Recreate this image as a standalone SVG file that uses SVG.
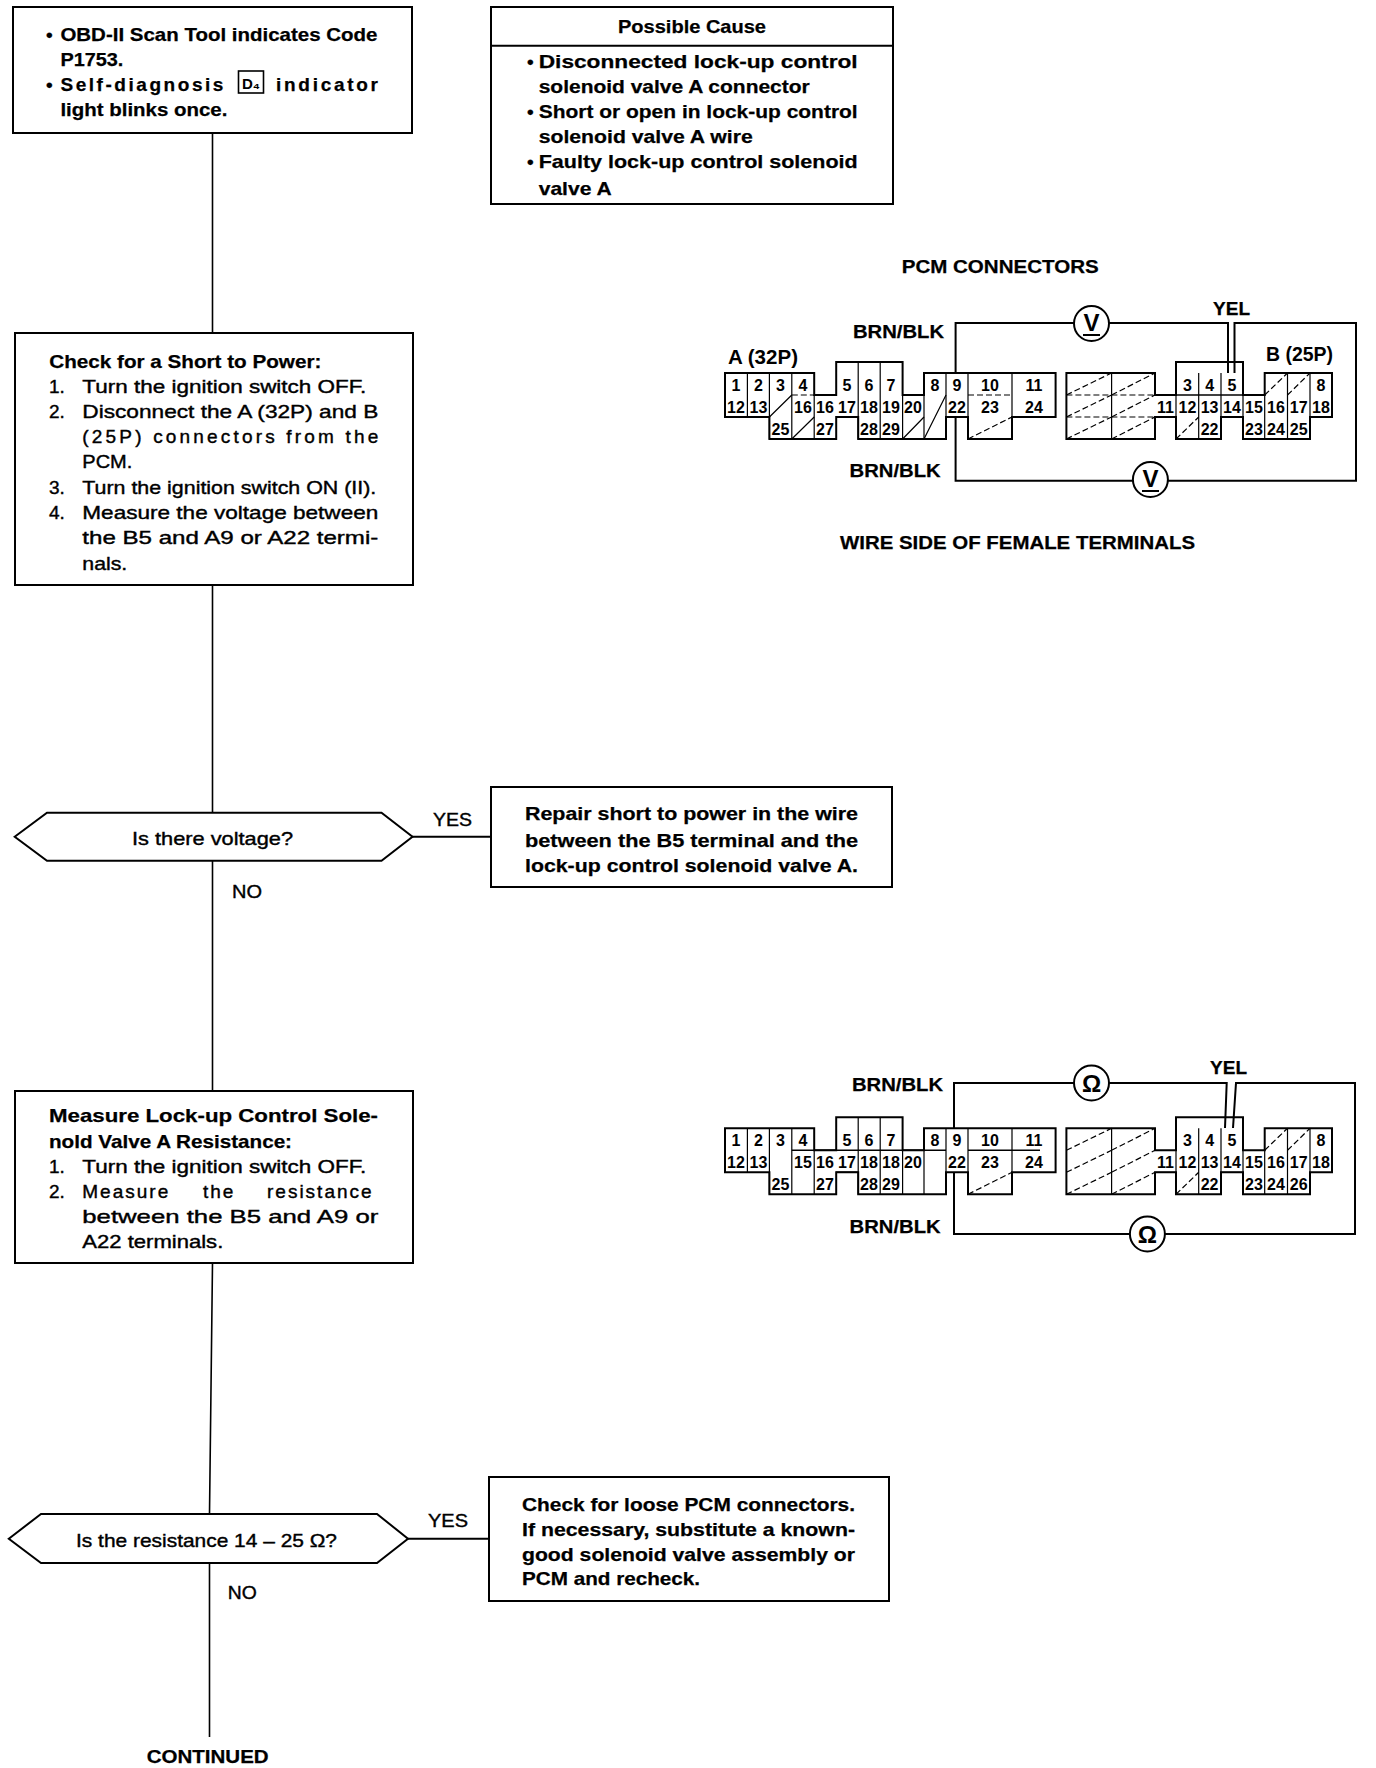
<svg xmlns="http://www.w3.org/2000/svg" width="1376" height="1768" viewBox="0 0 1376 1768">
<style>
text{font-family:"Liberation Sans",Arial,sans-serif;fill:#000}
.b{font-weight:700;font-size:19px;stroke:#000;stroke-width:.25px}
.r{font-size:19px;stroke:#000;stroke-width:.4px}
.l{font-weight:700;font-size:20px}
.c{font-weight:700;font-size:16px;text-anchor:middle}
.box{fill:#fff;stroke:#000;stroke-width:2}
.w{fill:none;stroke:#000;stroke-width:2}
.thin{fill:none;stroke:#000;stroke-width:1.2}
.dash{fill:none;stroke:#000;stroke-width:1.2;stroke-dasharray:6 3}
.m{fill:#fff;stroke:#000;stroke-width:2}
</style>
<defs>
<path id="outA" d="M725 373H814.2V395H836.2V362H902.6V395H924V373H1055.6V417H1012V439H968V417H946V439H858.2V417H836.2V439H769.4V417H725Z"/>
<path id="gridA" d="M747.4 373V417M769.4 373V439M791.8 373V439M814.2 395V439M858.2 362V439M880.2 362V439M902.6 395V439M924 395V439M946 373V439M968 373V439M1012 373V417"/>
<path id="outB" d="M1066.4 373H1155V395H1176V362H1243V395H1264.7V373H1332V417H1310V439H1243V417H1221V439H1176V417H1155V439H1066.4Z"/>
<path id="gridB" d="M1111.6 373V439M1198.7 373V439M1221 373V417M1287.5 373V439M1310 373V417M1176 395V417M1243 395V417M1264.7 395V439M1155 417H1176M1221 417H1243"/>
<path id="hatch" d="M1066.4 395L1111.6 373M1111.6 395L1155 373M1066.4 417L1111.6 395M1111.6 417L1155 395M1066.4 439L1111.6 417M1111.6 439L1155 417M968 439L1012 417M1176 439L1198.7 417M1264.7 395L1287.5 373M1287.5 395L1310 373"/>
</defs>

<g id="connectors">
<path class="w" style="stroke-width:1.6" d="M212.5 133V333M212.5 585V813M212.5 861V1091M212.5 1263L209.5 1514M209.5 1563V1737"/>
<path class="w" d="M412 836.7H490M408 1538.7H488"/>
<path class="w" d="M955.6 373V323H1074M1109 323H1228V373M1234.5 373V323H1356V480.7H1168M1133 480.7H955.6V417"/>
<path class="w" d="M954 1128V1083H1074M1109 1083H1226.7L1225 1128M1233 1128L1236 1083H1355V1234H1165M1130 1234H954V1172"/>
</g>

<g id="box-symptom">
<rect class="box" x="13" y="7" width="399" height="126"/>
<text class="b" x="46" y="40.7">•</text>
<text class="b" x="60.4" y="40.7" textLength="317" lengthAdjust="spacingAndGlyphs">OBD-II Scan Tool indicates Code</text>
<text class="b" x="60.4" y="65.7" textLength="63" lengthAdjust="spacingAndGlyphs">P1753.</text>
<text class="b" x="46" y="90.7">•</text>
<text class="b" x="60.4" y="90.7" textLength="163">Self-diagnosis</text>
<rect x="238.5" y="71" width="25" height="22" fill="none" stroke="#000" stroke-width="1.6"/>
<text x="242" y="89" style="font-weight:700;font-size:15px">D₄</text>
<text class="b" x="276" y="90.7" textLength="102">indicator</text>
<text class="b" x="60.4" y="116" textLength="167" lengthAdjust="spacingAndGlyphs">light blinks once.</text>
</g>

<g id="box-causes">
<rect class="box" x="491" y="7" width="402" height="197"/>
<path class="w" d="M491 45.7H893"/>
<text class="b" x="618" y="33" textLength="148" lengthAdjust="spacingAndGlyphs">Possible Cause</text>
<text class="b" x="527" y="68.3">•</text>
<text class="b" x="538.7" y="68.3" textLength="319" lengthAdjust="spacingAndGlyphs">Disconnected lock-up control</text>
<text class="b" x="538.7" y="93.3" textLength="271" lengthAdjust="spacingAndGlyphs">solenoid valve A connector</text>
<text class="b" x="527" y="118.3">•</text>
<text class="b" x="538.7" y="118.3" textLength="319" lengthAdjust="spacingAndGlyphs">Short or open in lock-up control</text>
<text class="b" x="538.7" y="143.3" textLength="214" lengthAdjust="spacingAndGlyphs">solenoid valve A wire</text>
<text class="b" x="527" y="168.3">•</text>
<text class="b" x="538.7" y="168.3" textLength="319" lengthAdjust="spacingAndGlyphs">Faulty lock-up control solenoid</text>
<text class="b" x="538.7" y="195" textLength="73" lengthAdjust="spacingAndGlyphs">valve A</text>
</g>

<g id="box-short-check">
<rect class="box" x="15" y="333" width="398" height="252"/>
<text class="b" x="49.3" y="367.7" textLength="272" lengthAdjust="spacingAndGlyphs">Check for a Short to Power:</text>
<text class="r" x="49" y="393.3">1.</text><text class="r" x="82.3" y="393.3" textLength="284" lengthAdjust="spacingAndGlyphs">Turn the ignition switch OFF.</text>
<text class="r" x="49" y="418.3">2.</text><text class="r" x="82.3" y="418.3" textLength="296" lengthAdjust="spacingAndGlyphs">Disconnect the A (32P) and B</text>
<text class="r" x="82.3" y="443.3" textLength="296">(25P) connectors from the</text>
<text class="r" x="82.3" y="468.3" textLength="50" lengthAdjust="spacingAndGlyphs">PCM.</text>
<text class="r" x="49" y="493.5">3.</text><text class="r" x="82.3" y="493.5" textLength="294" lengthAdjust="spacingAndGlyphs">Turn the ignition switch ON (II).</text>
<text class="r" x="49" y="519">4.</text><text class="r" x="82.3" y="519" textLength="296" lengthAdjust="spacingAndGlyphs">Measure the voltage between</text>
<text class="r" x="82.3" y="544" textLength="296" lengthAdjust="spacingAndGlyphs">the B5 and A9 or A22 termi-</text>
<text class="r" x="82.3" y="570" textLength="45" lengthAdjust="spacingAndGlyphs">nals.</text>
</g>

<g id="decision-voltage">
<path class="box" d="M14.7 836.7L47 812.7H381.5L412.5 836.7L381.5 860.7H47Z"/>
<text class="r" x="132" y="845" textLength="161" lengthAdjust="spacingAndGlyphs">Is there voltage?</text>
</g>
<text id="label-yes-1" class="r" x="433" y="825.5" textLength="39" lengthAdjust="spacingAndGlyphs">YES</text>
<text id="label-no-1" class="r" x="232" y="897.5" textLength="30" lengthAdjust="spacingAndGlyphs">NO</text>

<g id="box-repair">
<rect class="box" x="491" y="787" width="401" height="100"/>
<text class="b" x="525" y="820" textLength="333" lengthAdjust="spacingAndGlyphs">Repair short to power in the wire</text>
<text class="b" x="525" y="846.7" textLength="333" lengthAdjust="spacingAndGlyphs">between the B5 terminal and the</text>
<text class="b" x="525" y="871.7" textLength="333" lengthAdjust="spacingAndGlyphs">lock-up control solenoid valve A.</text>
</g>

<g id="box-resistance-check">
<rect class="box" x="15" y="1091" width="398" height="172"/>
<text class="b" x="49" y="1121.7" textLength="329" lengthAdjust="spacingAndGlyphs">Measure Lock-up Control Sole-</text>
<text class="b" x="49" y="1148" textLength="243" lengthAdjust="spacingAndGlyphs">nold Valve A Resistance:</text>
<text class="r" x="49" y="1173">1.</text><text class="r" x="82.3" y="1173" textLength="284" lengthAdjust="spacingAndGlyphs">Turn the ignition switch OFF.</text>
<text class="r" x="49" y="1198">2.</text><text class="r" y="1198"><tspan x="82.3" dx="0" letter-spacing="2">Measure</tspan><tspan x="203" letter-spacing="2">the</tspan><tspan x="267" letter-spacing="2">resistance</tspan></text>
<text class="r" x="82.3" y="1223" textLength="296" lengthAdjust="spacingAndGlyphs">between the B5 and A9 or</text>
<text class="r" x="82.3" y="1248" textLength="141" lengthAdjust="spacingAndGlyphs">A22 terminals.</text>
</g>

<g id="decision-resistance">
<path class="box" d="M8.8 1538.7L41 1514H377L408 1538.7L377 1563H41Z"/>
<text class="r" x="76" y="1547" textLength="261" lengthAdjust="spacingAndGlyphs">Is the resistance 14 – 25 Ω?</text>
</g>
<text id="label-yes-2" class="r" x="428" y="1527" textLength="40" lengthAdjust="spacingAndGlyphs">YES</text>
<text id="label-no-2" class="r" x="227.7" y="1598.5" textLength="29" lengthAdjust="spacingAndGlyphs">NO</text>

<g id="box-loose">
<rect class="box" x="489" y="1477" width="400" height="124"/>
<text class="b" x="522" y="1510.7" textLength="333" lengthAdjust="spacingAndGlyphs">Check for loose PCM connectors.</text>
<text class="b" x="522" y="1535.7" textLength="333" lengthAdjust="spacingAndGlyphs">If necessary, substitute a known-</text>
<text class="b" x="522" y="1560.7" textLength="333" lengthAdjust="spacingAndGlyphs">good solenoid valve assembly or</text>
<text class="b" x="522" y="1585" textLength="178" lengthAdjust="spacingAndGlyphs">PCM and recheck.</text>
</g>

<text id="continued" class="b" x="146.7" y="1763" textLength="122" lengthAdjust="spacingAndGlyphs">CONTINUED</text>

<g id="pcm-diagram-voltage">
<text class="b" x="901.7" y="273" textLength="197" lengthAdjust="spacingAndGlyphs">PCM CONNECTORS</text>
<text class="l" x="728" y="364" textLength="70" lengthAdjust="spacingAndGlyphs">A (32P)</text>
<text class="l" x="1266" y="361" textLength="67" lengthAdjust="spacingAndGlyphs">B (25P)</text>
<text class="b" x="853" y="337.5" textLength="91" lengthAdjust="spacingAndGlyphs">BRN/BLK</text>
<text class="b" x="849.6" y="477" textLength="91" lengthAdjust="spacingAndGlyphs">BRN/BLK</text>
<text class="b" x="1213" y="314.5" textLength="37" lengthAdjust="spacingAndGlyphs">YEL</text>
<text class="b" x="840" y="548.5" textLength="355" lengthAdjust="spacingAndGlyphs">WIRE SIDE OF FEMALE TERMINALS</text>
<use href="#outA" class="w"/><use href="#gridA" class="thin"/>
<use href="#outB" class="w"/><use href="#gridB" class="thin"/>
<path class="w" d="M1176 395H1243" style="stroke-width:1.4"/>
<path class="thin" d="M769.4 417L791.8 395M791.8 439L814.2 417M902.6 439L924 417M924 439L946 395"/>
<use href="#hatch" class="dash"/>
<path class="dash" d="M1066.4 395H1155M1066.4 417H1155M791.8 395H814M968 395H1012"/>
<g class="cells">
<text class="c" y="391"><tspan x="736">1</tspan><tspan x="758.5">2</tspan><tspan x="780.5">3</tspan><tspan x="803">4</tspan><tspan x="847">5</tspan><tspan x="869">6</tspan><tspan x="891">7</tspan><tspan x="935">8</tspan><tspan x="957">9</tspan><tspan x="990">10</tspan><tspan x="1034">11</tspan><tspan x="1187.5">3</tspan><tspan x="1209.6">4</tspan><tspan x="1232">5</tspan><tspan x="1321">8</tspan></text>
<text class="c" y="413"><tspan x="736">12</tspan><tspan x="758.5">13</tspan><tspan x="803">16</tspan><tspan x="825">16</tspan><tspan x="847">17</tspan><tspan x="869">18</tspan><tspan x="891">19</tspan><tspan x="913">20</tspan><tspan x="957">22</tspan><tspan x="990">23</tspan><tspan x="1034">24</tspan><tspan x="1165.5">11</tspan><tspan x="1187.5">12</tspan><tspan x="1209.6">13</tspan><tspan x="1232">14</tspan><tspan x="1254">15</tspan><tspan x="1276">16</tspan><tspan x="1298.7">17</tspan><tspan x="1321">18</tspan></text>
<text class="c" y="434.5"><tspan x="780.5">25</tspan><tspan x="825">27</tspan><tspan x="869">28</tspan><tspan x="891">29</tspan><tspan x="1209.6">22</tspan><tspan x="1254">23</tspan><tspan x="1276">24</tspan><tspan x="1298.7">25</tspan></text>
</g>
<circle class="m" cx="1091.5" cy="323.5" r="17.5"/>
<text x="1091.5" y="331" text-anchor="middle" style="font-weight:700;font-size:24px">V</text>
<path class="w" d="M1083 335H1100"/>
<circle class="m" cx="1150.4" cy="479.5" r="17.5"/>
<text x="1150.4" y="487" text-anchor="middle" style="font-weight:700;font-size:24px">V</text>
<path class="w" d="M1142 491H1159"/>
</g>

<g id="pcm-diagram-resistance">
<text class="b" x="852" y="1091" textLength="91" lengthAdjust="spacingAndGlyphs">BRN/BLK</text>
<text class="b" x="849.6" y="1233" textLength="91" lengthAdjust="spacingAndGlyphs">BRN/BLK</text>
<text class="b" x="1210" y="1073.5" textLength="37" lengthAdjust="spacingAndGlyphs">YEL</text>
<g transform="translate(0 755.3)">
<use href="#outA" class="w"/><use href="#gridA" class="thin"/>
<use href="#outB" class="w"/><use href="#gridB" class="thin"/>
<path class="w" style="stroke-width:1.4" d="M791.8 395H946M968 395H1040M836 417H858"/>
<use href="#hatch" class="dash"/>
<text class="c" y="391"><tspan x="736">1</tspan><tspan x="758.5">2</tspan><tspan x="780.5">3</tspan><tspan x="803">4</tspan><tspan x="847">5</tspan><tspan x="869">6</tspan><tspan x="891">7</tspan><tspan x="935">8</tspan><tspan x="957">9</tspan><tspan x="990">10</tspan><tspan x="1034">11</tspan><tspan x="1187.5">3</tspan><tspan x="1209.6">4</tspan><tspan x="1232">5</tspan><tspan x="1321">8</tspan></text>
<text class="c" y="413"><tspan x="736">12</tspan><tspan x="758.5">13</tspan><tspan x="803">15</tspan><tspan x="825">16</tspan><tspan x="847">17</tspan><tspan x="869">18</tspan><tspan x="891">18</tspan><tspan x="913">20</tspan><tspan x="957">22</tspan><tspan x="990">23</tspan><tspan x="1034">24</tspan><tspan x="1165.5">11</tspan><tspan x="1187.5">12</tspan><tspan x="1209.6">13</tspan><tspan x="1232">14</tspan><tspan x="1254">15</tspan><tspan x="1276">16</tspan><tspan x="1298.7">17</tspan><tspan x="1321">18</tspan></text>
<text class="c" y="434.5"><tspan x="780.5">25</tspan><tspan x="825">27</tspan><tspan x="869">28</tspan><tspan x="891">29</tspan><tspan x="1209.6">22</tspan><tspan x="1254">23</tspan><tspan x="1276">24</tspan><tspan x="1298.7">26</tspan></text>
</g>
<circle class="m" cx="1091.5" cy="1083" r="17.5"/>
<text x="1091.5" y="1092" text-anchor="middle" style="font-weight:700;font-size:24px">Ω</text>
<circle class="m" cx="1147.4" cy="1234" r="17.5"/>
<text x="1147.4" y="1243" text-anchor="middle" style="font-weight:700;font-size:24px">Ω</text>
</g>
</svg>
